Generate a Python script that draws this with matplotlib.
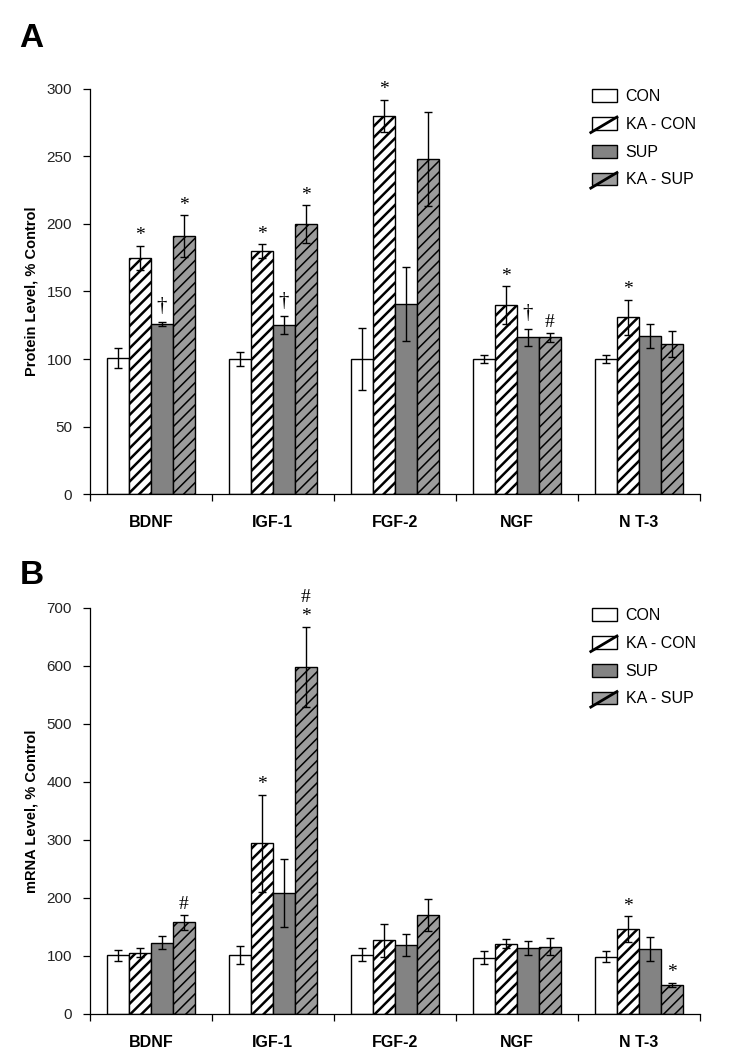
import numpy as np
import matplotlib
matplotlib.use("Agg")
import matplotlib.pyplot as plt
from matplotlib.patches import Patch, Rectangle
from matplotlib.lines import Line2D
from matplotlib.legend_handler import HandlerPatch

plt.rcParams["font.family"] = ["Liberation Sans", "DejaVu Sans"]

categories = ["BDNF", "IGF-1", "FGF-2", "NGF", "N T-3"]
groups = ["CON", "KA - CON", "SUP", "KA - SUP"]

# panel A: protein level, % control
prot_mean = {
    "CON":      [101, 100, 100, 100, 100],
    "KA - CON": [175, 180, 280, 140, 131],
    "SUP":      [126, 125, 141, 116, 117],
    "KA - SUP": [191, 200, 248, 116, 111],
}
prot_err = {
    "CON":      [7.5, 5.5, 23, 3, 3],
    "KA - CON": [9, 5, 12, 14, 13],
    "SUP":      [1.5, 6.5, 27.5, 6.5, 9],
    "KA - SUP": [15.5, 14, 35, 3.5, 9.5],
}
prot_marks = {
    "CON":      ["", "", "", "", ""],
    "KA - CON": ["*", "*", "*", "*", "*"],
    "SUP":      ["†", "†", "", "†", ""],
    "KA - SUP": ["*", "*", "", "#", ""],
}

# panel B: mRNA level, % control
mrna_mean = {
    "CON":      [101, 102, 102, 97, 99],
    "KA - CON": [106, 294, 127, 121, 146],
    "SUP":      [123, 209, 119, 113, 112],
    "KA - SUP": [158, 599, 171, 116, 50],
}
mrna_err = {
    "CON":      [10, 15, 11.5, 11, 10],
    "KA - CON": [7, 84, 29, 8, 22.5],
    "SUP":      [11, 59, 19, 12, 20],
    "KA - SUP": [13, 69, 28, 15, 4],
}
mrna_marks = {
    "CON":      ["", "", "", "", ""],
    "KA - CON": ["", "*", "", "", "*"],
    "SUP":      ["", "", "", "", ""],
    "KA - SUP": ["#", "#\n*", "", "", "*"],
}

styles = {
    "CON":      dict(facecolor="white", hatch=None, hlw=1.0),
    "KA - CON": dict(facecolor="white", hatch="///", hlw=1.8),
    "SUP":      dict(facecolor="#838383", hatch=None, hlw=1.0),
    "KA - SUP": dict(facecolor="#9c9c9c", hatch="///", hlw=1.1),
}


class SwatchHandler(HandlerPatch):
    """Excel-like legend key: box with one diagonal stroke for hatched series."""

    def create_artists(self, legend, orig_handle, xdescent, ydescent,
                       width, height, fontsize, trans):
        r = Rectangle((-xdescent, -ydescent), width, height,
                      facecolor=orig_handle.get_facecolor(), edgecolor="black",
                      linewidth=1.0, transform=trans)
        arts = [r]
        if orig_handle.get_hatch():
            ln = Line2D([-xdescent - 1, -xdescent + width],
                        [-ydescent - 2, -ydescent + height],
                        color="black", linewidth=2.0, transform=trans)
            arts.append(ln)
        return arts


def draw_panel(ax, means, errs, marks, ymax, ystep, ylabel):
    x = np.arange(len(categories))
    w = 0.18
    for i, g in enumerate(groups):
        pos = x + (i - 1.5) * w
        st = styles[g]
        with plt.rc_context({"hatch.linewidth": st["hlw"]}):
            bars = ax.bar(pos, means[g], w, color=st["facecolor"], edgecolor="black",
                          hatch=st["hatch"], linewidth=1.0, zorder=2)
        for b in bars:
            if hasattr(b, "set_hatch_linewidth"):
                b.set_hatch_linewidth(st["hlw"])
        ax.errorbar(pos, means[g], yerr=errs[g], fmt="none", ecolor="black",
                    elinewidth=1.0, capsize=3, capthick=1.0, zorder=3)
        for xp, m, e, t in zip(pos, means[g], errs[g], marks[g]):
            if not t:
                continue
            if t == "†":
                fs, off = 15, 4
            else:
                fs, off = 14, 1
            ax.annotate(t, (xp, m + e), xytext=(0, off), textcoords="offset points",
                        ha="center", va="bottom", fontsize=fs, linespacing=1.2,
                        family=["Liberation Serif", "DejaVu Serif"], zorder=4)
    ax.set_xlim(-0.5, len(categories) - 0.5)
    ax.set_ylim(0, ymax)
    ax.set_yticks(np.arange(0, ymax + 1, ystep))
    ax.tick_params(axis="y", labelsize=11, length=5, width=0.9, pad=8,
                   color="black", labelcolor="#222222")
    ax.set_xticks(x)
    ax.set_xticklabels(categories, fontweight="bold", fontsize=11.5)
    ax.set_xticks(np.arange(-0.5, len(categories)), minor=True)
    ax.tick_params(axis="x", which="major", length=0, pad=15)
    ax.tick_params(axis="x", which="minor", length=5, width=0.9)
    for s in ["top", "right"]:
        ax.spines[s].set_visible(False)
    ax.spines["left"].set_linewidth(0.9)
    ax.spines["bottom"].set_linewidth(0.9)
    ax.set_ylabel(ylabel, fontweight="bold", fontsize=10.5, labelpad=6)
    handles = [Patch(facecolor=styles[g]["facecolor"], edgecolor="black",
                     hatch=styles[g]["hatch"], label=g)
               for g in groups]
    ax.legend(handles=handles, loc="upper right", bbox_to_anchor=(1.017, 1.035),
              frameon=False, fontsize=11.5, handlelength=1.55, handleheight=0.85,
              labelspacing=0.8, handletextpad=0.55,
              handler_map={Patch: SwatchHandler()})


fig = plt.figure(figsize=(7.5, 10.59), dpi=100)
axA = fig.add_axes([0.12, 0.5335, 0.813, 0.3825])
axB = fig.add_axes([0.12, 0.0425, 0.813, 0.3834])

draw_panel(axA, prot_mean, prot_err, prot_marks, 300, 50, "Protein Level, % Control")
draw_panel(axB, mrna_mean, mrna_err, mrna_marks, 700, 100, "mRNA Level, % Control")

fig.text(0.026, 0.964, "A", fontsize=24, fontweight="bold", va="center")
fig.text(0.026, 0.457, "B", fontsize=24, fontweight="bold", va="center")

fig.savefig("out.png", dpi=100)
